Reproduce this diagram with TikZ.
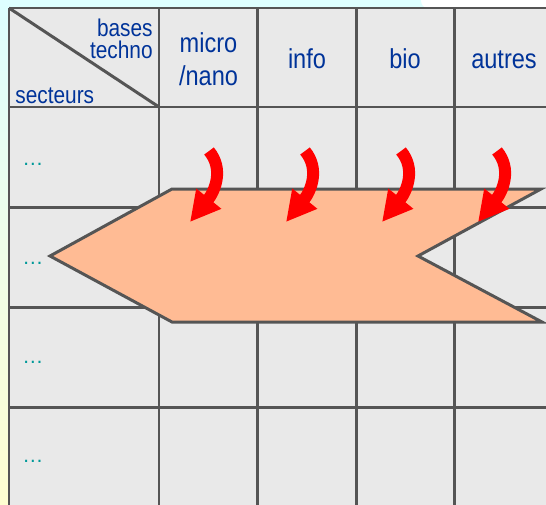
\documentclass[tikz,border=0pt]{standalone}
\usepackage{fontspec}
\setmainfont{Liberation Sans}
\newfontfamily\headfont[FakeStretch=0.86]{Liberation Sans}
\usetikzlibrary{arrows.meta,positioning}

\definecolor{headblue}{RGB}{0,51,153}
\definecolor{dotteal}{RGB}{0,153,153}
\definecolor{linegray}{RGB}{85,85,85}
\definecolor{cellgray}{RGB}{233,233,233}
\definecolor{salmon}{RGB}{255,187,148}

\begin{document}
\begin{tikzpicture}[
		x=0.02cm, y=-0.02cm,
		gridline/.style={draw=linegray, line width=1.7pt},
		colhead/.style={text=headblue, align=center, inner sep=0pt,
				font=\headfont\fontsize{15.6}{18.7}\selectfont},
		corner/.style={text=headblue, inner sep=0pt,
				font=\headfont\fontsize{13.8}{15}\selectfont},
		dots/.style={text=dotteal, anchor=base west, inner sep=0pt,
				font=\fontsize{12}{12}\selectfont},
		bigarrow/.style={draw=linegray, fill=salmon, line width=1.7pt},
		push/.style={red, line width=6.8pt,
				-{Triangle[length=0.6cm, width=0.6cm]}}
	]

	\useasboundingbox (0,0) rectangle (546,504);
	\clip (0,0) rectangle (546,504);

	% background
	\shade[top color=cyan!13, bottom color=yellow!18] (0,0) rectangle (546,504);
	\fill[white] (421,0) .. controls (421,5) and (424,8) .. (428,8) -- (546,8) -- (546,0) -- cycle;

	% table
	\fill[cellgray] (9,8) rectangle (553,507);
	\foreach \gx in {9,159,257.5,356,454.5}
	\draw[gridline] (\gx,8) -- (\gx,507);
	\foreach \gy in {8,107,207,307,407}
	\draw[gridline] (9,\gy) -- (553,\gy);
	\draw[gridline] (9,8) -- (159,107);

	\node[corner, anchor=base east] (bases) at (153,36) {bases};
	\node[corner, anchor=base east] (techno) at (153,58) {techno};
	\node[corner, anchor=base west] (secteurs) at (15,103) {secteurs};

	\node[colhead] (micro) at (208.5,59) {micro\\/nano};
	\node[colhead, anchor=base] (info) at (307,68.5) {info};
	\node[colhead, anchor=base] (bio) at (405,68.5) {bio};
	\node[colhead, anchor=base] (autres) at (504,68.5) {autres};

	\foreach \dy [count=\r] in {165,264,363,462}
	\node[dots] (row\r) at (22,\dy) {\ldots};

	% shape
	\draw[bigarrow] (50,256) -- (172,189) -- (541,189) -- (418,256)
	-- (542,322) -- (172,322) -- cycle;

	% red arrows
	\foreach \i in {0,...,3} {
			\coordinate (from\i) at (209+96*\i,151);
			\coordinate (to\i) at (190+96*\i,222);
			\draw[push] (from\i) .. controls ([xshift=0.3cm,yshift=-0.36cm]from\i)
			and ([xshift=0.5cm,yshift=0.62cm]to\i) .. (to\i);
		}
\end{tikzpicture}
\end{document}
